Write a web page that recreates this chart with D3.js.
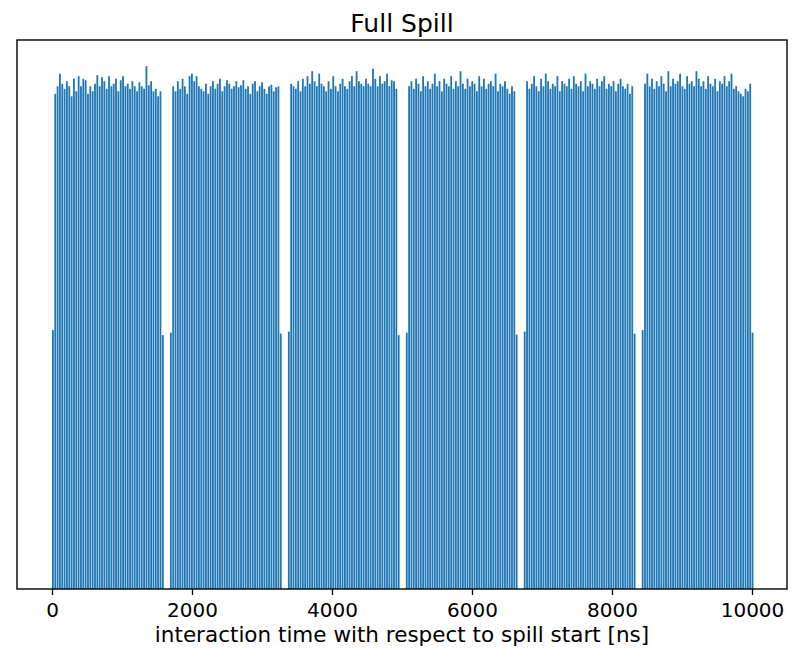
<!DOCTYPE html>
<html>
<head>
<meta charset="utf-8">
<script src="https://cdn.jsdelivr.net/npm/d3@7/dist/d3.min.js"></script>
<style>
  html, body { margin: 0; padding: 0; background: #fff; }
  svg { display: block; }
  text { font-family: "DejaVu Sans", sans-serif; fill: #000; }
</style>
</head>
<body>
<svg id="chart" width="792" height="650"></svg>
<script>
// ---- data ----
const title = "Full Spill";
const xLabel = "interaction time with respect to spill start [ns]";
const xTicks = [0, 2000, 4000, 6000, 8000, 10000];
const trainStarts = [0, 1685, 3370, 5055, 6740, 8425];   // ns
const bunchSpacing = 33.4;                               // ns
const binWidth = 26;                                     // ns
const edgeCounts = [[515, 505], [510, 508], [512, 505], [510, 506], [512, 508], [515, 510]];
const train1 = [985,1000,1025,1005,995,1010,1000,980,1015,990,1020,1000,1015,1012,985,1000,990,1005,1022,1000,1018,1010,995,1020,1000,1005,1015,990,1012,1020,1000,1005,995,1010,1000,990,1008,1000,995,1040,1002,1010,990,995,980,990];
const train2 = [1000,990,1010,995,1015,1000,985,1020,1025,1010,1020,1000,995,990,1005,985,1000,1010,995,1005,1015,990,1000,1012,1005,995,1000,1010,998,1002,1012,995,1000,985,1005,1010,990,1000,1008,995,985,1000,1003,990,998,1000];
const train3 = [1005,1000,995,1010,990,1015,1000,1020,1005,1030,1010,1000,1025,1005,1000,990,1010,995,1020,1000,990,1005,1015,1000,995,1010,1020,1000,1030,1010,1005,1000,1015,1005,1000,1035,1015,1000,1020,1005,1010,1025,1000,1012,1010,995];
const train4 = [1000,1010,995,1015,1005,990,1020,1000,1010,995,1005,1025,1000,1010,990,1015,1005,1000,1020,995,1010,1000,1030,1005,995,1015,1000,1010,1005,990,1020,1000,1015,995,1005,1010,1000,1025,990,1005,1000,1010,995,985,1000,990];
const train5 = [1010,995,1005,1020,1000,990,1015,1000,1025,1010,995,1005,1000,1020,990,1010,1005,1000,1015,995,1020,1005,1000,1010,990,1025,1000,1010,1005,995,1015,1000,1010,1020,995,1005,1000,1010,990,1005,1015,1000,995,1005,985,1000];
const train6 = [1005,1025,1000,1015,995,1010,1000,1020,1005,990,1030,1000,1015,1005,1010,1025,1000,995,1020,1005,1010,1000,1030,1015,1000,1010,995,1020,1005,1000,1015,990,1010,1005,1020,1000,1010,1025,995,1000,990,985,980,995,990,1005];
const trainCounts = [train1, train2, train3, train4, train5, train6];

// ---- build bins ----
const bins = [];
trainStarts.forEach((t0, k) => {
  const full = trainCounts[k];
  const counts = [edgeCounts[k][0], ...full, edgeCounts[k][1]];
  counts.forEach((c, i) => {
    bins.push({ x0: t0 + i * bunchSpacing, count: c });
  });
});

// ---- layout ----
const svg = d3.select("#chart");
const L = 17, R = 787, T = 40, B = 589;
const x = d3.scaleLinear().domain([-500, 10500]).range([L, R]);
const yMax = d3.max(bins, d => d.count) * 1.05;
const y = d3.scaleLinear().domain([0, yMax]).range([B, T]);

svg.append("g").selectAll("rect").data(bins).join("rect")
  .attr("x", d => x(d.x0))
  .attr("width", d => x(d.x0 + binWidth) - x(d.x0))
  .attr("y", d => y(d.count))
  .attr("height", d => y(0) - y(d.count))
  .attr("fill", "#1f77b4");

// frame
svg.append("rect")
  .attr("x", L).attr("y", T).attr("width", R - L).attr("height", B - T)
  .attr("fill", "none").attr("stroke", "#000").attr("stroke-width", 1.4);

// x axis
const ax = svg.append("g").attr("transform", `translate(0,${B})`)
  .call(d3.axisBottom(x).tickValues(xTicks).tickFormat(d3.format("d")).tickSize(6).tickPadding(8));
ax.select(".domain").remove();
ax.selectAll(".tick line").attr("stroke", "#000").attr("stroke-width", 1.3);
ax.selectAll(".tick text").attr("font-size", 20).attr("font-family", "DejaVu Sans, sans-serif").attr("fill", "#000");

svg.append("text")
  .attr("x", (L + R) / 2).attr("y", 642)
  .attr("text-anchor", "middle").attr("font-size", 21.5)
  .text(xLabel);

svg.append("text")
  .attr("x", (L + R) / 2).attr("y", 32)
  .attr("text-anchor", "middle").attr("font-size", 25)
  .text(title);
</script>
</body>
</html>
